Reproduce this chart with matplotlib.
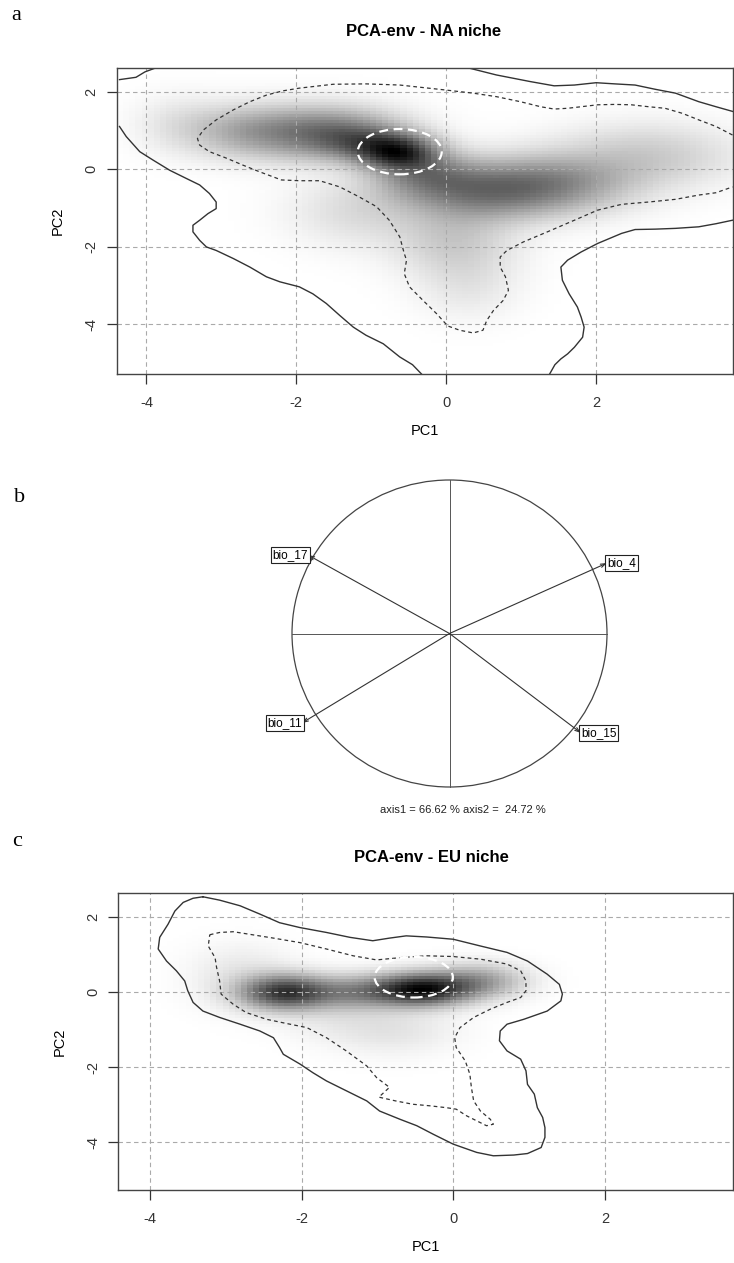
import numpy as np
import matplotlib.pyplot as plt
from matplotlib.patches import Ellipse

plt.rcParams['font.family'] = ['Liberation Sans Narrow', 'Liberation Sans', 'DejaVu Sans']

W, H = 734, 1263

# ---- panel a : NA niche ----
na_xlim = (-4.40, 3.82)
na_ylim = (-5.29, 2.61)
# density components: x, y, sd_x, sd_y, weight
na_cx = [-0.65, -1.60, -2.70, 0.50, 1.50, 2.70, 0.10, 0.30, -0.30, -1.20, -1.10, -3.60]
na_cy = [0.45, 0.95, 1.00, -0.55, -0.35, 0.35, -1.80, -3.00, -0.10, -1.10, 0.70, 1.20]
na_sx = [0.35, 0.65, 0.55, 0.75, 0.70, 0.80, 0.55, 0.45, 0.45, 0.60, 0.40, 0.40]
na_sy = [0.30, 0.45, 0.45, 0.50, 0.50, 0.55, 0.65, 0.60, 0.40, 0.60, 0.30, 0.50]
na_w = [0.90, 0.62, 0.30, 0.55, 0.38, 0.20, 0.20, 0.08, 0.40, 0.12, 0.35, 0.08]

na_outer_tl_x = [-4.36, -4.14, -4.02, -3.88]
na_outer_tl_y = [2.31, 2.37, 2.51, 2.61]
na_outer_l_x = [-4.36, -4.27, -4.09, -3.91, -3.69, -3.47, -3.29, -3.16, -3.07, -3.07, -3.18, -3.29,
                -3.38, -3.38, -3.29, -3.20, -3.07, -2.84, -2.62, -2.40, -2.22, -1.96, -1.78, -1.60,
                -1.42, -1.24, -1.07, -0.84, -0.62, -0.45, -0.33]
na_outer_l_y = [1.10, 0.84, 0.45, 0.23, -0.03, -0.24, -0.41, -0.63, -0.85, -1.02, -1.15, -1.32,
                -1.45, -1.62, -1.84, -2.01, -2.10, -2.31, -2.53, -2.78, -2.91, -3.04, -3.22, -3.47,
                -3.78, -4.08, -4.29, -4.51, -4.85, -5.05, -5.29]
na_outer_tr_x = [0.30, 0.67, 1.12, 1.44, 1.71, 2.00, 2.25, 2.52, 2.79, 3.06, 3.37, 3.60, 3.82]
na_outer_tr_y = [2.61, 2.43, 2.26, 2.15, 2.17, 2.23, 2.20, 2.17, 2.06, 1.96, 1.74, 1.61, 1.49]
na_outer_br_x = [3.82, 3.60, 3.37, 3.06, 2.79, 2.52, 2.34, 2.02, 1.80, 1.62, 1.53, 1.55, 1.64,
                 1.75, 1.80, 1.84, 1.82, 1.71, 1.62, 1.53, 1.45, 1.38]
na_outer_br_y = [-1.32, -1.41, -1.49, -1.53, -1.55, -1.56, -1.66, -1.92, -2.14, -2.35, -2.53,
                 -2.87, -3.22, -3.56, -3.82, -4.08, -4.34, -4.60, -4.77, -4.90, -5.05, -5.29]
na_inner_x = [3.82, 3.60, 3.37, 3.15, 2.92, 2.70, 2.47, 2.25, 2.02, 1.80, 1.62, 1.44, 1.26, 0.99,
              0.67, 0.36, 0.00, -0.62, -1.07, -1.51, -1.96, -2.18, -2.40, -2.62, -2.84, -3.07,
              -3.24, -3.32, -3.29, -3.16, -2.93, -2.71, -2.49, -2.20, -1.96, -1.69, -1.42, -1.16,
              -0.93, -0.76, -0.62, -0.56, -0.53, -0.56, -0.49, -0.31, -0.13, 0.02, 0.18, 0.36,
              0.49, 0.54, 0.63, 0.76, 0.83, 0.79, 0.72, 0.72, 0.81, 1.03, 1.35, 1.71, 2.02, 2.34,
              2.70, 3.06, 3.37, 3.60, 3.82]
na_inner_y = [0.88, 1.10, 1.27, 1.44, 1.57, 1.61, 1.66, 1.67, 1.66, 1.61, 1.57, 1.55, 1.61, 1.74,
              1.87, 1.96, 2.04, 2.17, 2.20, 2.19, 2.09, 2.02, 1.91, 1.74, 1.53, 1.27,
              1.01, 0.79, 0.62, 0.45, 0.28, 0.10, -0.07, -0.28, -0.30, -0.30, -0.46, -0.72,
              -0.97, -1.32, -1.75, -2.18, -2.35, -2.70, -3.04, -3.39, -3.73, -4.05, -4.16, -4.23,
              -4.16, -3.91, -3.65, -3.39, -3.13, -2.78, -2.53, -2.27, -2.10, -1.88, -1.62, -1.32,
              -1.06, -0.91, -0.85, -0.78, -0.67, -0.61, -0.46]
na_core = [-0.62, 0.45, 1.12, 1.17]  # centre x, centre y, width, height

# ---- panel b : correlation circle ----
var_names = ['bio_4', 'bio_17', 'bio_11', 'bio_15']
var_x = [1.00, -0.898, -0.937, 0.835]
var_y = [0.459, 0.511, -0.583, -0.648]
axis_text = 'axis1 = 66.62 % axis2 =  24.72 %'

# ---- panel c : EU niche ----
eu_xlim = (-4.42, 3.69)
eu_ylim = (-5.27, 2.63)
eu_cx = [-0.40, -2.25, -1.30, 0.35, -0.80, -2.80, -1.60]
eu_cy = [0.08, 0.00, 0.00, 0.30, -1.00, 0.40, -0.60]
eu_sx = [0.42, 0.38, 0.50, 0.40, 0.55, 0.45, 0.50]
eu_sy = [0.28, 0.30, 0.30, 0.30, 0.45, 0.55, 0.45]
eu_w = [1.00, 0.80, 0.42, 0.35, 0.08, 0.08, 0.05]

eu_outer_x = [-3.30, -3.08, -2.81, -2.55, -2.29, -2.02, -1.67, -1.36, -1.06, -0.84, -0.62, -0.35,
              0.00, 0.36, 0.71, 0.98, 1.24, 1.40, 1.44, 1.42, 1.24, 0.93, 0.71, 0.62, 0.61, 0.71,
              0.89, 0.96, 0.98, 1.07, 1.11, 1.18, 1.21, 1.21, 1.16, 0.98, 0.80, 0.53, 0.31, 0.00,
              -0.26, -0.48, -0.70, -0.97, -1.14, -1.41, -1.67, -1.85, -2.02, -2.24, -2.29, -2.37,
              -2.55, -2.81, -3.08, -3.30, -3.43, -3.50, -3.54, -3.65, -3.78, -3.89, -3.87, -3.76,
              -3.67, -3.56, -3.43, -3.30]
eu_outer_y = [2.53, 2.44, 2.29, 2.07, 1.84, 1.71, 1.58, 1.45, 1.36, 1.43, 1.49, 1.46,
              1.40, 1.22, 1.05, 0.82, 0.47, 0.20, -0.06, -0.24, -0.51, -0.73, -0.86, -1.04,
              -1.30, -1.57, -1.79, -2.10, -2.46, -2.72, -3.08, -3.34, -3.61, -3.87, -4.14, -4.30,
              -4.34, -4.36, -4.27, -4.05, -3.79, -3.56, -3.39, -3.17, -2.90, -2.63, -2.37, -2.15,
              -1.92, -1.66, -1.48, -1.22, -1.04, -0.86, -0.68, -0.51, -0.28, 0.03, 0.29, 0.56,
              0.82, 1.14, 1.45, 1.80, 2.15, 2.38, 2.49, 2.53]
eu_inner_x = [-3.21, -3.08, -2.90, -2.68, -2.37, -2.02, -1.67, -1.32, -1.01, -0.70, -0.35, 0.00,
              0.36, 0.71, 0.89, 0.96, 0.96, 0.89, 0.71, 0.49, 0.27, 0.09, 0.02, 0.04, 0.16, 0.22,
              0.24, 0.27, 0.36, 0.49, 0.53, 0.44, 0.31, 0.18, 0.04, -0.09, -0.31, -0.53, -0.76,
              -0.98, -0.84, -1.01, -1.14, -1.41, -1.67, -1.93, -2.20, -2.46, -2.73, -2.90, -3.06,
              -3.08, -3.12, -3.14, -3.23, -3.21]
eu_inner_y = [1.52, 1.58, 1.60, 1.53, 1.43, 1.31, 1.14, 0.96, 0.85, 0.91, 0.96, 0.94,
              0.87, 0.74, 0.56, 0.29, 0.03, -0.15, -0.28, -0.46, -0.68, -0.95, -1.22, -1.48, -1.84, -2.19,
              -2.54, -2.90, -3.17, -3.39, -3.52, -3.56, -3.43, -3.30, -3.12, -3.08, -3.03, -2.99, -2.90,
              -2.80, -2.54, -2.28, -1.97, -1.57, -1.22, -0.95, -0.84, -0.73, -0.55, -0.33, -0.06,
              0.29, 0.65, 0.91, 1.22, 1.52]
eu_core = [-0.52, 0.39, 1.03, 1.08]

tick_x = [-4, -2, 0, 2]
tick_y = [2, 0, -2, -4]


def px_axes(fig, left, top, right, bottom):
    return fig.add_axes([left / W, 1 - bottom / H, (right - left) / W, (bottom - top) / H])


def density(xlim, ylim, cx, cy, sx, sy, w, n=100):
    gx = np.linspace(xlim[0], xlim[1], n)
    gy = np.linspace(ylim[0], ylim[1], n)
    X, Y = np.meshgrid(gx, gy)
    Z = np.zeros_like(X)
    for i in range(len(cx)):
        Z += w[i] * np.exp(-0.5 * (((X - cx[i]) / sx[i]) ** 2 + ((Y - cy[i]) / sy[i]) ** 2))
    return (Z / Z.max()) ** 0.85


def niche_panel(ax, xlim, ylim, comps, outers, inners, core):
    Z = density(xlim, ylim, *comps)
    ax.imshow(Z, extent=[xlim[0], xlim[1], ylim[0], ylim[1]], origin='lower', aspect='auto',
              cmap='gray_r', vmin=0, vmax=1, interpolation='nearest', zorder=0)
    for v in tick_x:
        ax.axvline(v, color='#aaaaaa', lw=0.8, ls=(0, (4, 3)), zorder=1)
    for v in tick_y:
        ax.axhline(v, color='#aaaaaa', lw=0.8, ls=(0, (4, 3)), zorder=1)
    for xs, ys in outers:
        ax.plot(xs, ys, color='#333333', lw=1.0, zorder=2)
    for xs, ys in inners:
        ax.plot(xs, ys, color='#333333', lw=0.9, ls=(0, (3, 2.5)), zorder=2)
    ax.add_patch(Ellipse((core[0], core[1]), core[2], core[3], fill=False, ec='white',
                         lw=1.6, ls=(0, (4, 2.5)), zorder=3))
    ax.set_xlim(xlim)
    ax.set_ylim(ylim)
    ax.set_xticks(tick_x)
    ax.set_yticks(tick_y)
    ax.set_xticklabels([str(t) for t in tick_x], fontsize=10.5)
    ax.set_yticklabels([str(t) for t in tick_y], fontsize=10.5, rotation=90, va='center')
    ax.tick_params(axis='x', length=7, width=0.9, pad=9, colors='#333333')
    ax.tick_params(axis='y', length=7, width=0.9, pad=6, colors='#333333')
    ax.set_xlabel('PC1', fontsize=10.5, labelpad=10)
    ax.set_ylabel('PC2', fontsize=10.5, labelpad=14)
    for s in ax.spines.values():
        s.set_color('#444444')
        s.set_linewidth(1.0)


fig = plt.figure(figsize=(W / 100, H / 100), dpi=100)

ax_a = px_axes(fig, 116.5, 68, 732.5, 374)
niche_panel(ax_a, na_xlim, na_ylim, (na_cx, na_cy, na_sx, na_sy, na_w),
            [(na_outer_tl_x, na_outer_tl_y), (na_outer_l_x, na_outer_l_y),
             (na_outer_tr_x, na_outer_tr_y), (na_outer_br_x, na_outer_br_y)],
            [(na_inner_x, na_inner_y)], na_core)

ax_c = px_axes(fig, 118, 893, 733, 1190)
niche_panel(ax_c, eu_xlim, eu_ylim, (eu_cx, eu_cy, eu_sx, eu_sy, eu_w),
            [(eu_outer_x, eu_outer_y)], [(eu_inner_x, eu_inner_y)], eu_core)

# correlation circle
ax_b = px_axes(fig, 292, 480, 607, 787)
ax_b.set_xlim(-1, 1)
ax_b.set_ylim(-1, 1)
ax_b.axis('off')
ax_b.add_patch(Ellipse((0, 0), 2, 2, fill=False, ec='#444444', lw=0.9, clip_on=False))
ax_b.plot([-1, 1], [0, 0], color='#555555', lw=0.7, clip_on=False)
ax_b.plot([0, 0], [-1, 1], color='#555555', lw=0.7, clip_on=False)
for name, vx, vy in zip(var_names, var_x, var_y):
    ax_b.annotate('', xy=(vx, vy), xytext=(0, 0),
                  arrowprops=dict(arrowstyle='->,head_length=0.35,head_width=0.12',
                                  color='#333333', lw=0.8, shrinkA=0, shrinkB=0),
                  annotation_clip=False)
    ax_b.text(vx, vy, name, fontsize=8.5, ha='left' if vx > 0 else 'right', va='center',
              clip_on=False,
              bbox=dict(boxstyle='square,pad=0.15', fc='white', ec='#222222', lw=0.8))

fig.text(463 / W, 1 - 810 / H, axis_text, fontsize=8, ha='center', va='center', color='#222222')

# panel letters and titles
fig.text(16 / W, 1 - 15 / H, 'a', fontsize=16, family='Liberation Serif', ha='center', va='center')
fig.text(20 / W, 1 - 497 / H, 'b', fontsize=16, family='Liberation Serif', ha='center', va='center')
fig.text(17 / W, 1 - 842 / H, 'c', fontsize=16, family='Liberation Serif', ha='center', va='center')
fig.text(424 / W, 1 - 32 / H, 'PCA-env - NA niche', fontsize=12, fontweight='bold',
         ha='center', va='center')
fig.text(431 / W, 1 - 857 / H, 'PCA-env - EU niche', fontsize=12, fontweight='bold',
         ha='center', va='center')

fig.savefig('out.png', dpi=100)
